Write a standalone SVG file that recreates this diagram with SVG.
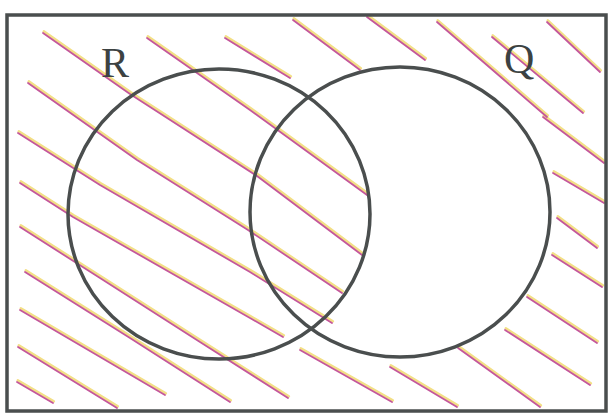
<svg xmlns="http://www.w3.org/2000/svg" xmlns:xlink="http://www.w3.org/1999/xlink" width="609" height="416" viewBox="0 0 609 416">
<style>
.frame{fill:none;stroke:#4a4e4e;stroke-width:3.5}
.set{fill:none;stroke:#4a4e4e;stroke-width:3.5}
.lbl{font-family:"Liberation Serif","Times New Roman",serif;font-size:42px;fill:#3c4242}
.hy{fill:none;stroke:#f3df86;stroke-width:2.6;stroke-linecap:round;stroke-linejoin:round}
.hm{fill:none;stroke:#c4579b;stroke-width:1.8;stroke-linecap:round;stroke-linejoin:round}
</style>
<defs>
<g id="hatchLines">
<polyline points="43,33 130,94 257,176 362,255"/>
<polyline points="147,38 250,110 367,195"/>
<polyline points="225,38 290,78"/>
<polyline points="293,20 360,70"/>
<polyline points="367,17 425,60"/>
<polyline points="437,22 547,117"/>
<polyline points="492,37 583,113"/>
<polyline points="547,22 600,72"/>
<polyline points="543,117 604,163"/>
<polyline points="553,173 604,203"/>
<polyline points="557,218 597,248"/>
<polyline points="552,255 602,287"/>
<polyline points="527,297 597,343"/>
<polyline points="505,330 590,385"/>
<polyline points="458,348 540,407"/>
<polyline points="390,367 457,407"/>
<polyline points="300,350 392,402"/>
<polyline points="28,83 137,160 248,230 342,293"/>
<polyline points="18,133 100,185 250,272 332,323"/>
<polyline points="20,183 73,217 250,318 283,337"/>
<polyline points="20,227 100,278 200,342 288,398"/>
<polyline points="25,272 130,338 230,402"/>
<polyline points="20,310 165,395"/>
<polyline points="18,347 117,408"/>
<polyline points="17,382 53,403"/>
</g>
</defs>
<rect width="609" height="416" fill="#ffffff"/>
<g id="hatching">
<use xlink:href="#hatchLines" class="hy" transform="translate(0.8,-1.6)"/>
<use xlink:href="#hatchLines" class="hm"/>
</g>
<g id="universe">
<rect class="frame" x="7" y="15" width="599" height="396"/>
</g>
<g id="set-R">
<ellipse class="set" cx="219" cy="214" rx="151" ry="145"/>
<text class="lbl" x="101" y="77">R</text>
</g>
<g id="set-Q">
<ellipse class="set" cx="400" cy="212" rx="150" ry="145"/>
<text class="lbl" x="504" y="73">Q</text>
</g>
<g id="connectors"/>
</svg>
